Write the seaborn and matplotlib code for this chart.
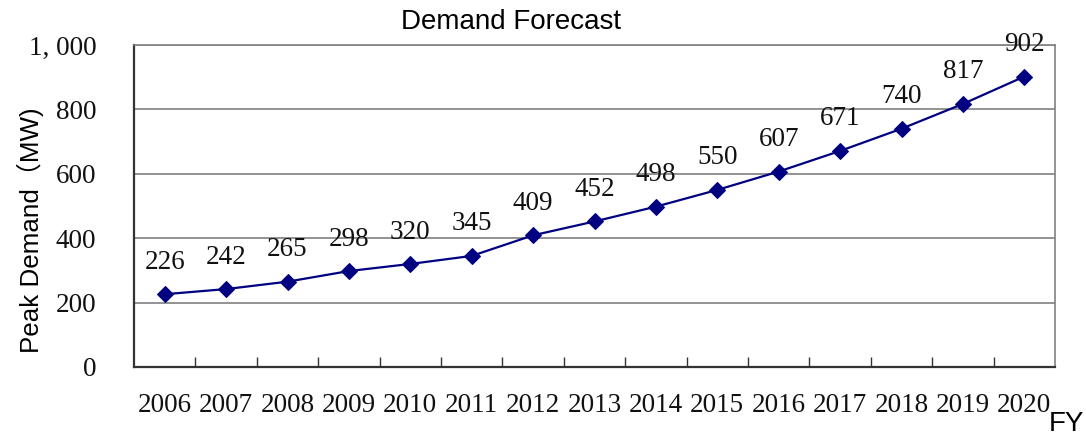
import matplotlib
matplotlib.use("Agg")
import matplotlib.pyplot as plt
from matplotlib.ticker import FixedLocator, FuncFormatter
import seaborn as sns
import pandas as pd

years = [2006, 2007, 2008, 2009, 2010, 2011, 2012, 2013, 2014,
         2015, 2016, 2017, 2018, 2019, 2020]
peak_mw = [226, 242, 265, 298, 320, 345, 409, 452, 498,
           550, 607, 671, 740, 817, 902]
y_ticks = [0, 200, 400, 600, 800, 1000]

df = pd.DataFrame({"FY": years, "Peak": peak_mw})

sns.set_theme(style="white")
serif = ["Liberation Serif", "DejaVu Serif"]
sans = ["Liberation Sans", "DejaVu Sans"]
num_size = 19.5
txt_size = 20

fig = plt.figure(figsize=(10.86, 4.37), dpi=100)
ax = fig.add_axes([134 / 1086, 1 - 367 / 437, (1055 - 134) / 1086, (367 - 45) / 437])

navy = "#000080"
sns.lineplot(data=df, x="FY", y="Peak", ax=ax, color=navy, linewidth=1.6,
             marker="D", markersize=8, markeredgecolor=navy, markerfacecolor=navy)

ax.set_xlim(years[0] - 0.5, years[-1] + 0.5)
ax.set_ylim(0, 1000)

# horizontal gridlines
ax.set_yticks(y_ticks)
ax.yaxis.grid(True, color="#808080", linewidth=1.2)
ax.xaxis.grid(False)
ax.set_axisbelow(True)

ax.yaxis.set_major_formatter(FuncFormatter(
    lambda v, p: "1, 000" if v >= 1000 else f"{int(v)}"))
ax.tick_params(axis="y", length=2, width=1, color="#333333", pad=25,
               labelsize=num_size, labelcolor="#111111")
for t in ax.get_yticklabels():
    t.set_fontfamily(serif)

# year labels at category centres, small inward ticks at boundaries
ax.xaxis.set_major_locator(FixedLocator(years))
ax.set_xticklabels([str(y) for y in years])
ax.tick_params(axis="x", which="major", length=0, pad=19, labelsize=num_size,
               labelcolor="#111111")
for t in ax.get_xticklabels():
    t.set_fontfamily(serif)
ax.xaxis.set_minor_locator(FixedLocator([y + 0.5 for y in years[:-1]]))
ax.tick_params(axis="x", which="minor", direction="in", length=7,
               width=1, color="#333333", bottom=True)

for side in ("left", "bottom"):
    ax.spines[side].set_color("#333333")
    ax.spines[side].set_linewidth(1.6)
for side in ("top", "right"):
    ax.spines[side].set_color("#808080")
    ax.spines[side].set_linewidth(1.2)

# value labels above each point
for x, v in zip(years, peak_mw):
    ax.annotate(f"{v}", (x, v), xytext=(0, 23), textcoords="offset points",
                ha="center", va="center", fontsize=num_size, family=serif,
                color="#111111", annotation_clip=False)

ax.set_xlabel("")
ax.set_ylabel("")
fig.text(511 / 1086, 1 - 22 / 437, "Demand Forecast", ha="center", va="center",
         fontsize=txt_size, family=sans, color="black")
fig.text(30 / 1086, 1 - 230 / 437, "Peak Demand（MW)", rotation=90,
         ha="center", va="center", fontsize=18.7,
         family=["Liberation Sans", "Noto Sans CJK JP", "DejaVu Sans"], color="black")
fig.text(1066 / 1086, 1 - 424 / 437, "FY", ha="center", va="center",
         fontsize=txt_size, family=sans, color="black")

fig.savefig("out.png", dpi=100)
